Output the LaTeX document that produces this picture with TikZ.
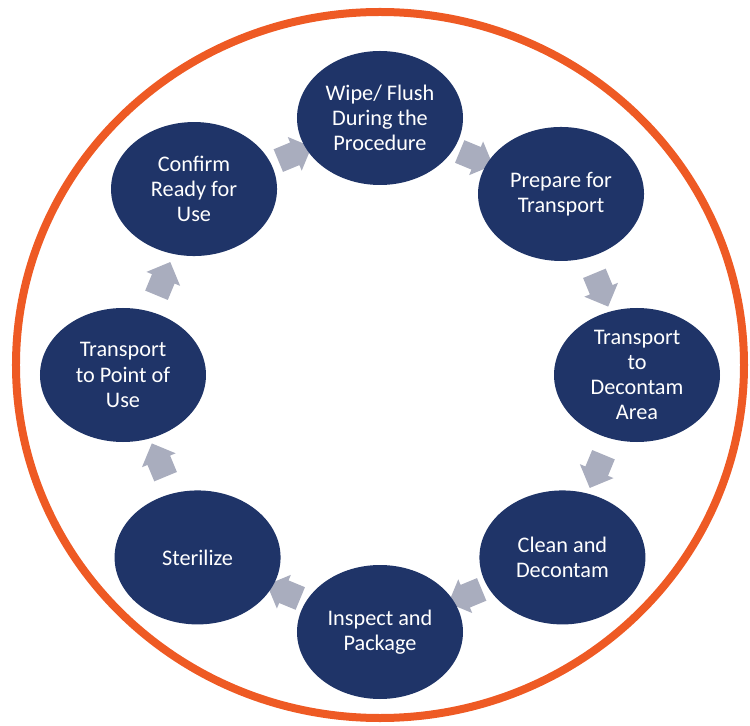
\documentclass[tikz,border=0pt]{standalone}
\usepackage{fontspec}
\setmainfont{Carlito}
\usetikzlibrary{shapes.geometric,shapes.arrows}

\definecolor{stageblue}{HTML}{1F3468}
\definecolor{ringorange}{HTML}{EE5A24}
\definecolor{cyclegrey}{HTML}{A9ADBE}

\tikzset{
  stage/.style={ellipse,fill=stageblue,text=white,inner sep=0pt,
    minimum width=49.8mm,minimum height=40.2mm,align=center,
    font=\fontsize{19}{21.5}\selectfont},
  cyclearrow/.style={single arrow,fill=cyclegrey,inner xsep=0pt,inner ysep=3.6mm,
    minimum height=10.8mm,single arrow head extend=1.8mm}
}

\begin{document}
\begin{tikzpicture}[x=0.3mm,y=0.3mm]
  \useasboundingbox (-380,-351) rectangle (370,375);
  % outer ring
  \draw[ringorange,line width=2.4mm] (0,10) ellipse [x radius=109.2mm,y radius=105.9mm];
  % grey arrows between the stages
  \foreach \a in {67.5,22.5,-22.5,-67.5,-112.5,-157.5,157.5,112.5}
    \node[cyclearrow,rotate=\a-90] (arr\a) at (\a:237) {};
  % stages, clockwise from the top
  \node[stage] (wipe) at (90:257) {Wipe/ Flush\\During the\\Procedure};
  \node[stage] (prepare) at (45:256) {Prepare for\\Transport};
  \node[stage] (decontam) at (0:257) {Transport\\to\\Decontam\\Area};
  \node[stage] (clean) at (-45:258) {Clean and\\Decontam};
  \node[stage] (inspect) at (-90:257) {Inspect and\\Package};
  \node[stage] (sterilize) at (-135:258) {Sterilize};
  \node[stage] (pointofuse) at (180:257) {Transport\\to Point of\\Use};
  \node[stage] (confirm) at (135:263) {Confirm\\Ready for\\Use};
\end{tikzpicture}
\end{document}
